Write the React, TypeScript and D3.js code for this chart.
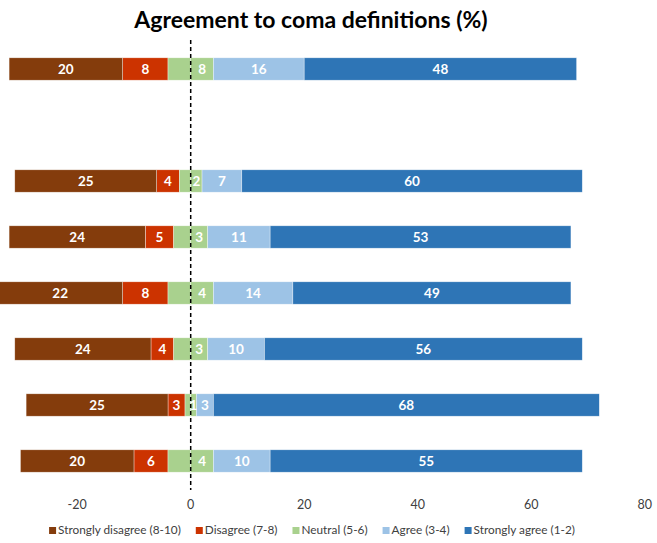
import { useRef, useEffect } from "react";
import * as d3 from "d3";

// rows top to bottom; the second slot is empty in the original chart
const rows = ["Def A", "", "Def B", "Def C", "Def D", "Def E", "Def F", "Def G"];
const stronglyDisagree = [20, null, 25, 24, 22, 24, 25, 20];
const disagree = [8, null, 4, 5, 8, 4, 3, 6];
const neutralHalf = [4, null, 2, 3, 4, 3, 1, 4]; // drawn on each side of zero
const neutralLabel = ["8", "", "2", "3", "4", "3", "1", "4"];
const agree = [16, null, 7, 11, 14, 10, 3, 10];
const stronglyAgree = [48, null, 60, 53, 49, 56, 68, 55];

const xTicks = [-20, 0, 20, 40, 60, 80];
const legendNames = [
  "Strongly disagree (8-10)",
  "Disagree (7-8)",
  "Neutral (5-6)",
  "Agree (3-4)",
  "Strongly agree (1-2)",
];
const colors = ["#843C0C", "#CC3300", "#A9D18E", "#9DC3E6", "#2E75B6"];

const W = 657;
const H = 543;
const FONT = "Lato, 'Open Sans', sans-serif";

export default function App() {
  const svgRef = useRef<SVGSVGElement>(null);

  useEffect(() => {
    if (!svgRef.current) return;
    const svg = d3.select(svgRef.current);
    svg.selectAll("*").remove();

    const x = d3.scaleLinear().domain([-40, 80]).range([-36.3, 644.7]);
    const y = d3
      .scaleBand<number>()
      .domain(rows.map((_, i) => i))
      .range([41, 489])
      .paddingInner(0.6)
      .paddingOuter(0.3);

    // Title
    svg
      .append("text")
      .attr("x", 311)
      .attr("y", 28)
      .attr("text-anchor", "middle")
      .attr("font-family", FONT)
      .attr("font-weight", "bold")
      .attr("font-size", 23)
      .attr("fill", "#000")
      .text("Agreement to coma definitions (%)");

    // Segments per row
    type Seg = { row: number; x0: number; x1: number; color: string; label: string };
    const segs: Seg[] = [];
    rows.forEach((_, i) => {
      if (stronglyDisagree[i] == null) return;
      const sd = stronglyDisagree[i]!;
      const di = disagree[i]!;
      const nh = neutralHalf[i]!;
      const ag = agree[i]!;
      const sa = stronglyAgree[i]!;
      segs.push({ row: i, x0: -nh - di, x1: -nh, color: colors[1], label: String(di) });
      segs.push({ row: i, x0: -nh - di - sd, x1: -nh - di, color: colors[0], label: String(sd) });
      segs.push({ row: i, x0: -nh, x1: 0, color: colors[2], label: "" });
      segs.push({ row: i, x0: 0, x1: nh, color: colors[2], label: neutralLabel[i] });
      segs.push({ row: i, x0: nh, x1: nh + ag, color: colors[3], label: String(ag) });
      segs.push({ row: i, x0: nh + ag, x1: nh + ag + sa, color: colors[4], label: String(sa) });
    });

    const g = svg.append("g");
    g.selectAll("rect")
      .data(segs)
      .join("rect")
      .attr("x", (d) => x(d.x0))
      .attr("y", (d) => y(d.row)!)
      .attr("width", (d) => x(d.x1) - x(d.x0))
      .attr("height", y.bandwidth())
      .attr("fill", (d) => d.color)
      .attr("stroke", "#ffffff")
      .attr("stroke-opacity", 0.6)
      .attr("stroke-width", 0.6);

    g.selectAll("text")
      .data(segs.filter((d) => d.label !== ""))
      .join("text")
      .attr("x", (d) => (x(d.x0) + x(d.x1)) / 2)
      .attr("y", (d) => y(d.row)! + y.bandwidth() / 2)
      .attr("dy", "0.35em")
      .attr("text-anchor", "middle")
      .attr("font-family", FONT)
      .attr("font-weight", "bold")
      .attr("font-size", 13.5)
      .attr("fill", "#ffffff")
      .text((d) => d.label);

    // Zero line
    svg
      .append("line")
      .attr("x1", x(0))
      .attr("x2", x(0))
      .attr("y1", 40)
      .attr("y2", 490)
      .attr("stroke", "#000")
      .attr("stroke-width", 1.5)
      .attr("stroke-dasharray", "4,3");

    // X tick labels (no axis line in the original)
    svg
      .append("g")
      .selectAll("text")
      .data(xTicks)
      .join("text")
      .attr("x", (d) => x(d))
      .attr("y", 509)
      .attr("text-anchor", "middle")
      .attr("font-family", FONT)
      .attr("font-size", 12.5)
      .attr("fill", "#404040")
      .text((d) => String(d));

    // Legend, measured then centred
    const lg = svg.append("g");
    const items = lg.selectAll("g").data(legendNames).join("g");
    items
      .append("rect")
      .attr("width", 7)
      .attr("height", 7)
      .attr("y", -7)
      .attr("fill", (_, i) => colors[i]);
    items
      .append("text")
      .attr("x", 9)
      .attr("font-family", FONT)
      .attr("font-size", 11.8)
      .attr("fill", "#404040")
      .text((d) => d);

    let cursor = 0;
    const gap = 15;
    items.each(function () {
      const node = this as SVGGElement;
      d3.select(node).attr("transform", `translate(${cursor},0)`);
      const tw = (node.querySelector("text") as SVGTextElement).getComputedTextLength();
      cursor += 9 + tw + gap;
    });
    const total = cursor - gap;
    lg.attr("transform", `translate(${312 - total / 2},534)`);
  }, []);

  return (
    <svg
      ref={svgRef}
      width={W}
      height={H}
      style={{ position: "absolute", left: 0, top: 0, background: "#fff" }}
    />
  );
}
